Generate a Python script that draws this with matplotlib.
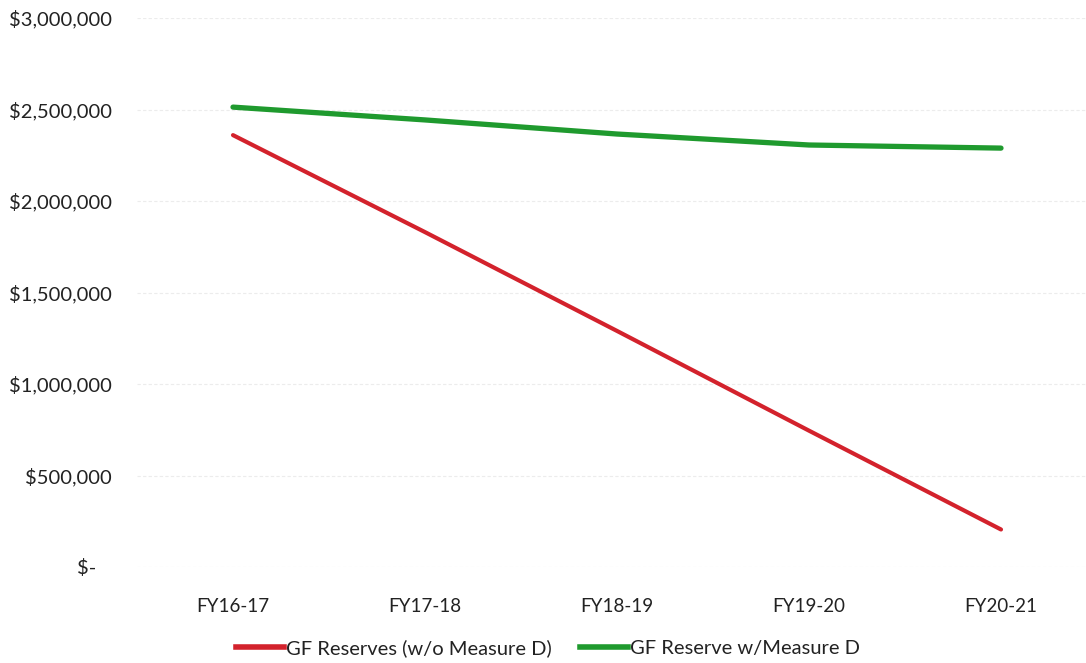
import matplotlib
matplotlib.use("Agg")
import matplotlib.pyplot as plt
from matplotlib.lines import Line2D

categories = ["FY16-17", "FY17-18", "FY18-19", "FY19-20", "FY20-21"]
without_d = [2360000, 1830000, 1290000, 745000, 205000]
with_d = [2513000, 2443000, 2366000, 2306000, 2289000]
yticks = [0, 500000, 1000000, 1500000, 2000000, 2500000, 3000000]
ytick_labels = ["$-   ", "$500,000", "$1,000,000", "$1,500,000", "$2,000,000", "$2,500,000", "$3,000,000"]
series_names = ["GF Reserves (w/o Measure D)", "GF Reserve w/Measure D"]

plt.rcParams['font.family'] = ['Lato', 'DejaVu Sans']

W, H = 1086, 663
fig = plt.figure(figsize=(W / 100, H / 100), dpi=100)
left, right, top, bottom = 137, 1086, 18, 567
ax = fig.add_axes([left / W, (H - bottom) / H, (right - left) / W, (bottom - top) / H])

x = list(range(len(categories)))
ax.plot(x, without_d, color="#d3222c", lw=3.0, solid_capstyle="round", zorder=3)
ax.plot(x, with_d, color="#1f9a2e", lw=3.8, solid_capstyle="round", zorder=3)

ax.set_xlim(-0.5, -0.5 + (right - left) / 192.0)
ax.set_ylim(0, 3000000)
ax.set_yticks(yticks)
ax.set_yticklabels(ytick_labels, fontsize=14.5, color="#222222")
ax.set_xticks(x)
ax.set_xticklabels(categories, fontsize=13.5, color="#222222")
ax.tick_params(length=0)
ax.tick_params(axis="y", pad=18)
ax.tick_params(axis="x", pad=22)
for s in ax.spines.values():
    s.set_visible(False)
ax.grid(axis="y", color="#ececec", lw=0.8, linestyle=(0, (3, 2)))
ax.set_axisbelow(True)

handles = [Line2D([], [], color="#d3222c", lw=4), Line2D([], [], color="#1f9a2e", lw=4)]
fig.legend(handles, series_names, loc="center", bbox_to_anchor=(548 / W, 1 - 648 / H),
           ncol=2, frameon=False, fontsize=14.5, handlelength=2.4, handletextpad=0.1,
           columnspacing=1.4, labelcolor="#222222")

fig.savefig("out.png", dpi=100, facecolor="white")
